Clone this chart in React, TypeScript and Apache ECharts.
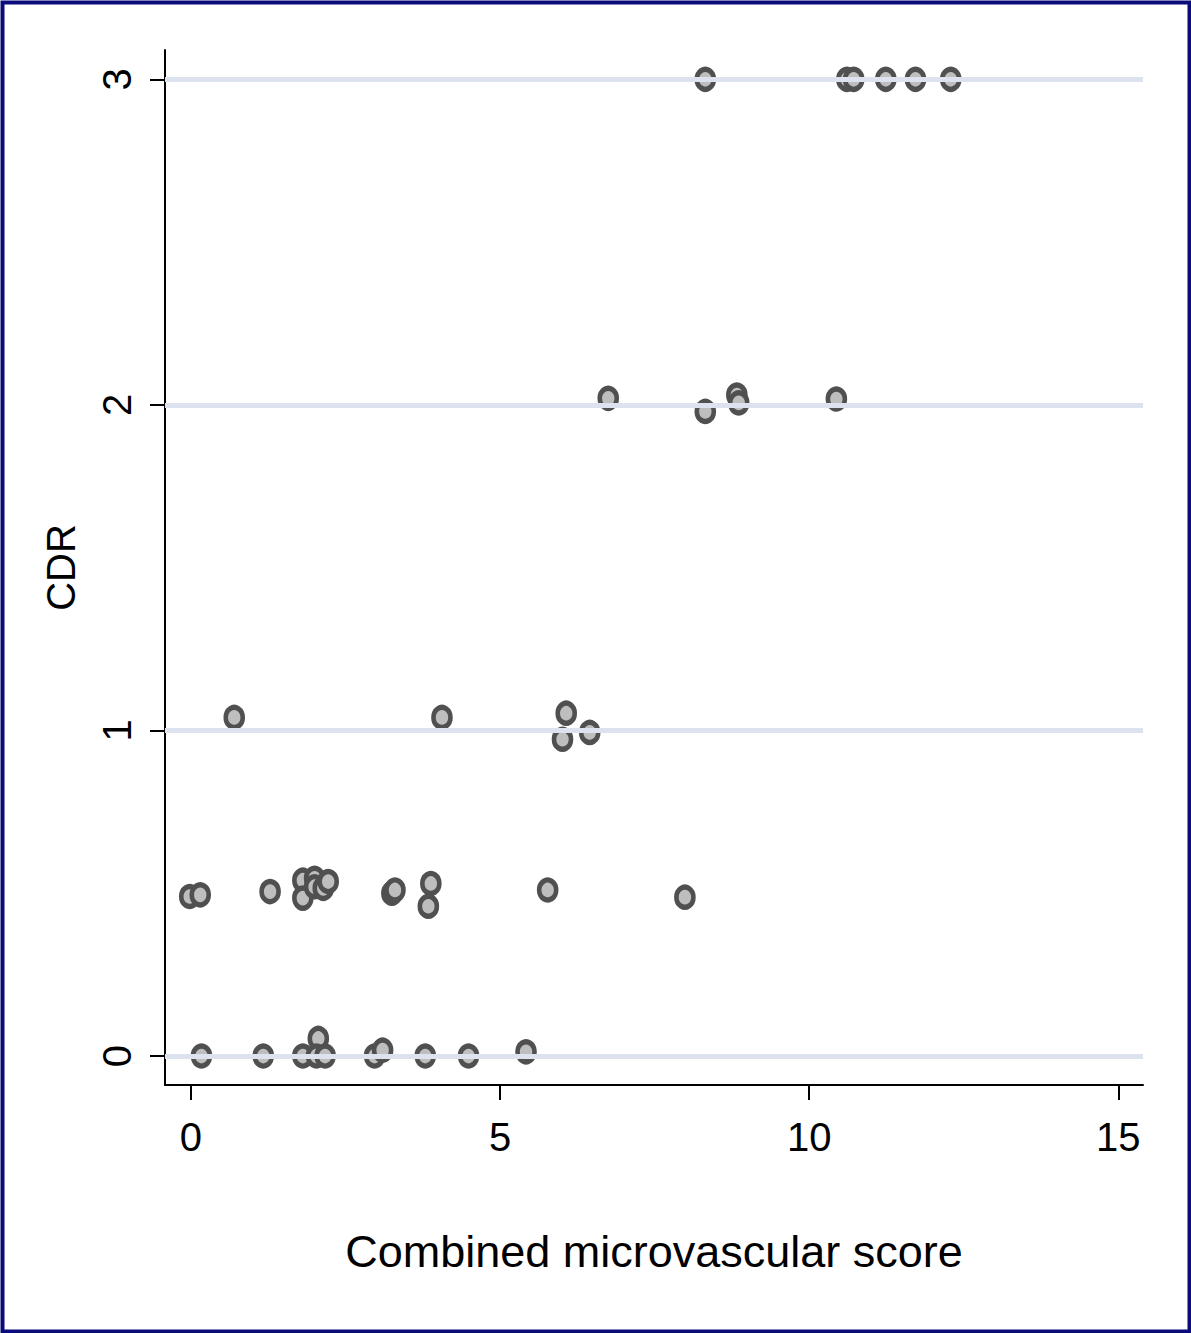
import React, { useEffect, useRef } from "react";
import * as echarts from "echarts";

// Combined microvascular score (x) vs CDR (y, jittered)
const scoreValues: number[] = [
  // CDR 0
  0.17, 1.17, 1.81, 2.06, 2.03, 2.17, 2.97, 3.1, 3.79, 4.49, 5.42,
  // CDR 0.5
  -0.02, 0.15, 1.28, 1.81, 1.81, 2.0, 2.0, 2.14, 2.22, 3.25, 3.3, 3.88, 3.84, 5.77, 7.99,
  // CDR 1
  0.7, 4.06, 6.07, 6.01, 6.45,
  // CDR 2
  6.75, 8.32, 8.83, 8.86, 10.44,
  // CDR 3
  8.32, 10.61, 10.72, 11.24, 11.72, 12.29,
];
const cdrValues: number[] = [
  0.0, 0.0, 0.0, 0.054, 0.0, 0.0, 0.0, 0.018, 0.0, 0.0, 0.013,
  0.49, 0.495, 0.505, 0.54, 0.485, 0.546, 0.52, 0.515, 0.536, 0.5, 0.51, 0.53, 0.46, 0.51, 0.488,
  1.04, 1.04, 1.053, 0.973, 0.994,
  2.02, 1.98, 2.03, 2.006, 2.018,
  3.0, 3.0, 3.0, 3.0, 3.0, 3.0,
];
const xTicks: number[] = [0, 5, 10, 15];
const yTicks: number[] = [0, 1, 2, 3];
const xTitle = "Combined microvascular score";
const yTitle = "CDR";

export default function App() {
  const ref = useRef<HTMLDivElement>(null);
  useEffect(() => {
    if (!ref.current) return;
    const chart = echarts.init(ref.current, undefined, { renderer: "svg" });
    const font = "Liberation Sans, Arial, sans-serif";
    chart.setOption({
      animation: false,
      backgroundColor: "#ffffff",
      grid: { left: 165, right: 48, top: 50, bottom: 248, containLabel: false },
      graphic: [
        {
          type: "rect",
          left: 0,
          top: 0,
          z: 100,
          silent: true,
          shape: { x: 2, y: 2, width: 1187, height: 1329 },
          style: { fill: "none", stroke: "#0b0b7c", lineWidth: 4 },
        },
      ],
      xAxis: {
        type: "value",
        min: -0.42,
        max: 15.4,
        name: xTitle,
        nameLocation: "middle",
        nameGap: 144,
        nameTextStyle: { fontSize: 45, color: "#000", fontFamily: font },
        axisLine: { show: true, onZero: false, lineStyle: { color: "#000", width: 2 } },
        axisTick: { show: true, customValues: xTicks, length: 15, lineStyle: { color: "#000", width: 2 } },
        axisLabel: { customValues: xTicks, fontSize: 40, color: "#000", fontFamily: font, margin: 32 },
        splitLine: { show: false },
      },
      yAxis: {
        type: "value",
        min: -0.089,
        max: 3.09,
        name: yTitle,
        nameLocation: "middle",
        nameRotate: 90,
        nameGap: 84,
        nameTextStyle: { fontSize: 40, color: "#000", fontFamily: font },
        axisLine: { show: true, onZero: false, lineStyle: { color: "#000", width: 2 } },
        axisTick: { show: true, customValues: yTicks, length: 15, lineStyle: { color: "#000", width: 2 } },
        axisLabel: { customValues: yTicks, rotate: 90, fontSize: 40, color: "#000", fontFamily: font, margin: 28 },
        splitLine: { show: false },
      },
      series: [
        {
          type: "scatter",
          data: [],
          z: 1,
          silent: true,
          markLine: {
            silent: true,
            symbol: ["none", "none"],
            label: { show: false },
            lineStyle: { color: "#dce3ef", width: 5, type: "solid" },
            data: yTicks.map((v) => ({ yAxis: v })),
          },
        },
        {
          type: "scatter",
          z: 3,
          symbol: "circle",
          symbolSize: [17, 20],
          itemStyle: { color: "#bebebe", borderColor: "#505050", borderWidth: 5, opacity: 1 },
          data: scoreValues.map((x, i) => [x, cdrValues[i]]),
        },
      ],
    });
    return () => chart.dispose();
  }, []);
  return (
    <div
      ref={ref}
      style={{ position: "absolute", left: 0, top: 0, width: 1191, height: 1333 }}
    />
  );
}
